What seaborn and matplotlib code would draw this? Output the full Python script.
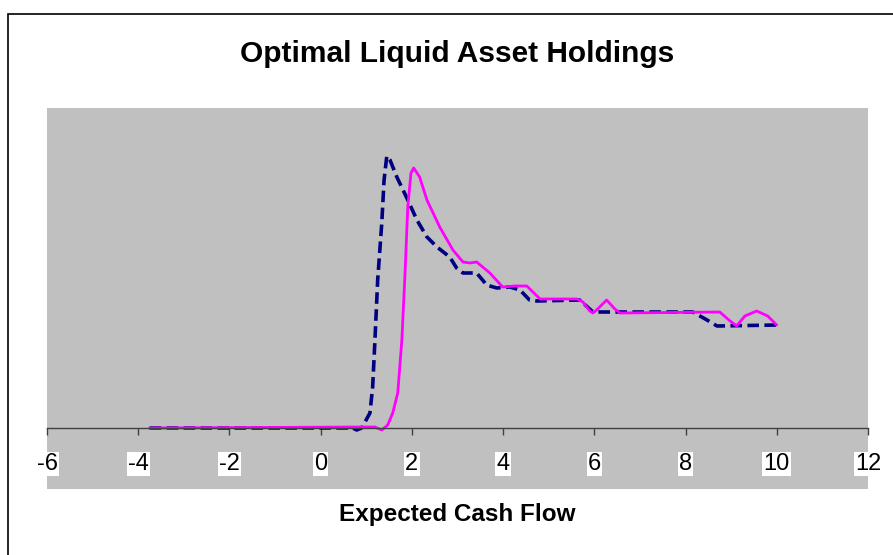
import matplotlib
matplotlib.use("Agg")
import matplotlib.pyplot as plt
import matplotlib.patches as patches
import seaborn as sns

sns.set_theme(style="white")
plt.rcParams['font.family'] = ['Liberation Sans', 'DejaVu Sans']
plt.rcParams['text.color'] = 'black'
plt.rcParams['xtick.color'] = 'black'

# expected cash flow (x) and holdings (y)
blue_x = [-3.75, 0.42, 0.70, 0.79, 0.90, 1.08, 1.14, 1.19, 1.25, 1.34, 1.39, 1.45,
          1.52, 1.67, 1.91, 2.11, 2.33, 2.55, 2.83, 2.98, 3.12, 3.20, 3.42, 3.64,
          3.86, 4.15, 4.37, 4.58, 4.74, 5.68, 5.97, 6.19, 8.16, 8.47, 8.69, 10.02]
blue_y = [0.00, 0.00, 0.00, -0.02, 0.00, 0.15, 0.41, 0.88, 1.48, 2.05, 2.48, 2.72,
          2.68, 2.51, 2.28, 2.08, 1.91, 1.81, 1.71, 1.60, 1.55, 1.55, 1.55, 1.43,
          1.40, 1.41, 1.38, 1.28, 1.27, 1.28, 1.16, 1.16, 1.16, 1.08, 1.02, 1.03]

pink_x = [-3.75, 0.86, 1.19, 1.34, 1.47, 1.58, 1.69, 1.78, 1.85, 1.91, 1.98, 2.04,
          2.17, 2.33, 2.61, 2.90, 3.12, 3.27, 3.42, 3.71, 3.99, 4.26, 4.52, 4.81,
          5.62, 5.75, 5.90, 5.97, 6.05, 6.27, 6.45, 6.56, 8.75, 8.95, 9.12, 9.30,
          9.56, 9.80, 10.00]
pink_y = [0.00, 0.01, 0.01, -0.02, 0.03, 0.15, 0.35, 0.88, 1.55, 2.21, 2.55, 2.60,
          2.51, 2.28, 2.01, 1.78, 1.66, 1.65, 1.66, 1.55, 1.41, 1.42, 1.42, 1.29,
          1.29, 1.26, 1.17, 1.15, 1.18, 1.28, 1.19, 1.15, 1.16, 1.08, 1.02, 1.12,
          1.17, 1.12, 1.03]

x_ticks = [-6, -4, -2, 0, 2, 4, 6, 8, 10, 12]

fig = plt.figure(figsize=(8.93, 5.55), dpi=100)
fig.patch.set_facecolor("white")
ax = fig.add_axes([47 / 893, 1 - 489 / 555, 821 / 893, 381 / 555])
ax.set_facecolor("#C0C0C0")

sns.lineplot(x=blue_x, y=blue_y, ax=ax, color="#000080", linewidth=2.6,
             linestyle=(0, (3.2, 1.5)))
sns.lineplot(x=pink_x, y=pink_y, ax=ax, color="#FF00FF", linewidth=2.0)

ax.set_xlim(-6, 12)
ax.set_ylim(-0.61, 3.20)

for s in ["left", "right", "top"]:
    ax.spines[s].set_visible(False)
ax.spines["bottom"].set_position(("data", 0))
ax.spines["bottom"].set_color("#404040")
ax.spines["bottom"].set_linewidth(1.0)
ax.set_yticks([])
ax.set_xticks(x_ticks)
ax.set_xticklabels([str(t) for t in x_ticks])
ax.tick_params(axis="x", direction="out", length=5, width=1, color="#404040",
               pad=13, labelsize=17, bottom=True, labelcolor="black")
for lbl in ax.get_xticklabels():
    lbl.set_bbox(dict(boxstyle="square,pad=0.05", facecolor="white", edgecolor="none"))

ax.set_title("Optimal Liquid Asset Holdings", fontsize=21.5, fontweight="bold",
             pad=33, color="black")
ax.set_xlabel("Expected Cash Flow", fontsize=17.5, fontweight="bold", color="black")
ax.xaxis.set_label_coords(0.5, -0.068)
ax.xaxis.label.set_va("center")

fig.patches.append(patches.Rectangle((8 / 893, -0.1), 1.1, 1.1 - 14 / 555,
                                     transform=fig.transFigure, fill=False,
                                     edgecolor="black", linewidth=1.2))

fig.savefig("out.png", dpi=100)
